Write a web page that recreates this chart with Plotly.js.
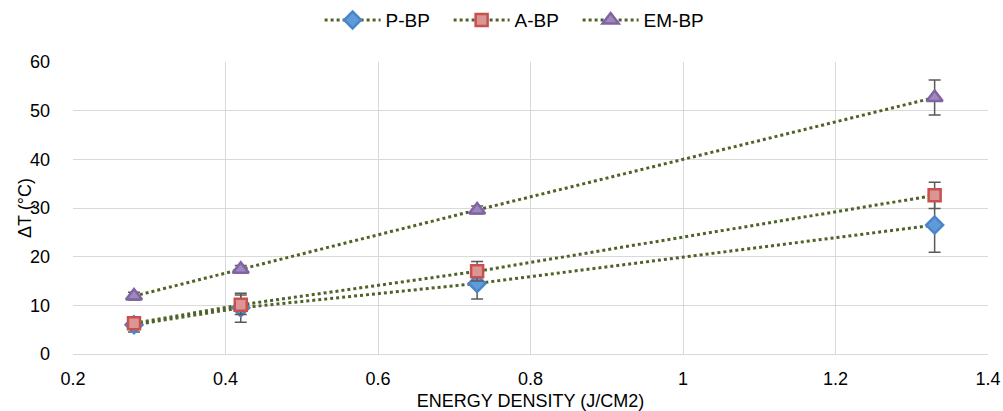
<!DOCTYPE html>
<html><head><meta charset="utf-8">
<script src="https://cdn.plot.ly/plotly-3.0.1.min.js"></script>
<style>html,body{margin:0;padding:0;background:#fff}#c{width:1003px;height:411px}</style>
</head><body><div id="c"></div>
<script>
const energy = [0.28, 0.42, 0.73, 1.33];
const pbp = [6.0, 9.5, 14.5, 26.5];
const pbpErr = [1.5, 3.0, 3.2, 5.6];
const abp = [6.3, 10.1, 17.0, 32.6];
const abpErr = [1.2, 2.0, 2.0, 2.7];
const embp = [11.9, 17.4, 29.6, 52.7];
const embpErr = [0.8, 0.8, 0.8, 3.6];
const names = ['P-BP', 'A-BP', 'EM-BP'];
const yTitle = 'ΔT (°C)';
const xTitle = 'ENERGY DENSITY (J/CM2)';

const lineColor = '#4F6228';
function tr(name, y, err, sym, fill, edge, size) {
  return {
    x: energy, y: y, name: name, type: 'scatter', mode: 'lines+markers',
    line: {color: lineColor, width: 3, dash: 'dot'},
    marker: {symbol: sym, size: size, color: fill, line: {color: edge, width: 2.5}},
    error_y: {type: 'data', array: err, visible: true, color: '#595959', thickness: 1.5, width: 6}
  };
}
const data = [
  tr(names[0], pbp, pbpErr, 'diamond', '#5E9BD8', '#4A86C8', 13),
  tr(names[1], abp, abpErr, 'square', '#D99694', '#C9504D', 12),
  tr(names[2], embp, embpErr, 'triangle-up', '#9F87C0', '#8064A2', 14)
];
const font = {family: 'Liberation Sans, Arial, sans-serif', size: 18, color: '#000'};
const legFont = {family: 'Liberation Sans, Arial, sans-serif', size: 19, color: '#000'};
const layout = {
  width: 1003, height: 411,
  margin: {l: 73, r: 15, t: 62, b: 57},
  paper_bgcolor: '#fff', plot_bgcolor: '#fff',
  font: font,
  showlegend: true,
  legend: {orientation: 'h', x: 0.481, xanchor: 'center', yref: 'container', y: 0.951, yanchor: 'middle',
           font: legFont, itemwidth: 56, entrywidth: 58, entrywidthmode: 'pixels'},
  xaxis: {
    range: [0.2, 1.4], showgrid: true, gridcolor: '#D9D9D9', gridwidth: 1,
    zeroline: false, showline: true, linecolor: '#D9D9D9', ticks: '', tickfont: font,
    ticklabelstandoff: 8,
    tickvals: [0.2,0.4,0.6,0.8,1.0,1.2,1.4], ticktext: ['0.2','0.4','0.6','0.8','1','1.2','1.4'],
    title: {text: xTitle, font: font, standoff: 6}
  },
  yaxis: {
    range: [0, 60], dtick: 10, showgrid: true, gridcolor: '#D9D9D9', gridwidth: 1,
    zeroline: false, showline: false, ticks: '', tickfont: font,
    ticklabelstandoff: 22
  },
  annotations: [{
    text: yTitle, font: font, textangle: -90, showarrow: false,
    xref: 'paper', yref: 'paper', x: 0, y: 0.5, xanchor: 'center', yanchor: 'middle', xshift: -48
  }]
};
Plotly.newPlot('c', data, layout, {displayModeBar: false, staticPlot: true});
</script></body></html>
